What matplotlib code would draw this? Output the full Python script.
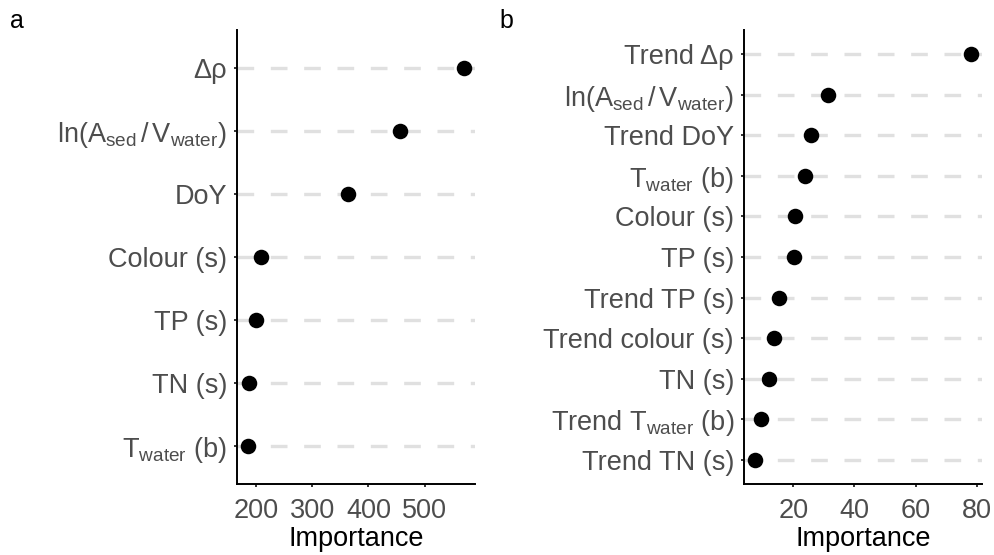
import matplotlib
matplotlib.use("Agg")
import matplotlib.pyplot as plt

plt.rcParams['font.family'] = ['Liberation Sans', 'DejaVu Sans']
plt.rcParams['mathtext.fontset'] = 'custom'
plt.rcParams['mathtext.rm'] = 'Liberation Sans'
plt.rcParams['mathtext.it'] = 'Liberation Sans:italic'

# panel a: importance of predictors (top to bottom)
labels_a = [r'Δρ', r'$\mathrm{ln(A_{sed}\,/\,V_{water})}$', 'DoY', 'Colour (s)',
            'TP (s)', 'TN (s)', r'$\mathrm{T_{water}\ (b)}$']
values_a = [570, 456, 363, 210, 200, 188, 186]
ticks_a = [200, 300, 400, 500]

# panel b
labels_b = ['Trend Δρ', r'$\mathrm{ln(A_{sed}\,/\,V_{water})}$', 'Trend DoY',
            r'$\mathrm{T_{water}\ (b)}$', 'Colour (s)', 'TP (s)', 'Trend TP (s)',
            'Trend colour (s)', 'TN (s)', r'$\mathrm{Trend\ T_{water}\ (b)}$',
            'Trend TN (s)']
values_b = [78.2, 31.4, 25.7, 23.7, 20.6, 20.1, 15.4, 13.8, 11.9, 9.4, 7.4]
ticks_b = [20, 40, 60, 80]

fig = plt.figure(figsize=(9.95, 5.55), dpi=100)
ax_a = fig.add_axes([0.2382, 0.1279, 0.2392, 0.8181])
ax_b = fig.add_axes([0.7477, 0.1279, 0.2392, 0.8181])


def dot_panel(ax, labels, values, ticks):
    n = len(labels)
    ypos = list(range(n, 0, -1))
    ax.scatter(values, ypos, s=125, color='black', linewidths=0, zorder=3)
    lo, hi = min(values), max(values)
    pad = (hi - lo) * 0.05
    ax.set_xlim(lo - pad, hi + pad)
    ax.set_ylim(0.4, n + 0.6)
    ax.set_yticks(ypos)
    ax.set_yticklabels(labels)
    ax.set_xticks(ticks)
    ax.grid(axis='y', color='#e0e0e0', linewidth=2.4, linestyle=(0, (5, 5)))
    ax.set_axisbelow(True)
    for s in ['top', 'right']:
        ax.spines[s].set_visible(False)
    for s in ['left', 'bottom']:
        ax.spines[s].set_linewidth(1.4)
    ax.tick_params(labelsize=19.5, labelcolor='#4d4d4d', color='#333333',
                   length=2.2, width=1.4)
    ax.tick_params(axis='y', pad=5)
    ax.tick_params(axis='x', pad=8)
    ax.set_xlabel('Importance', fontsize=19.5, color='black', labelpad=1)


dot_panel(ax_a, labels_a, values_a, ticks_a)
dot_panel(ax_b, labels_b, values_b, ticks_b)

fig.text(0.01, 0.963, 'a', fontsize=18, va='center', ha='left')
fig.text(0.502, 0.963, 'b', fontsize=18, va='center', ha='left')

fig.savefig('out.png', dpi=100)
